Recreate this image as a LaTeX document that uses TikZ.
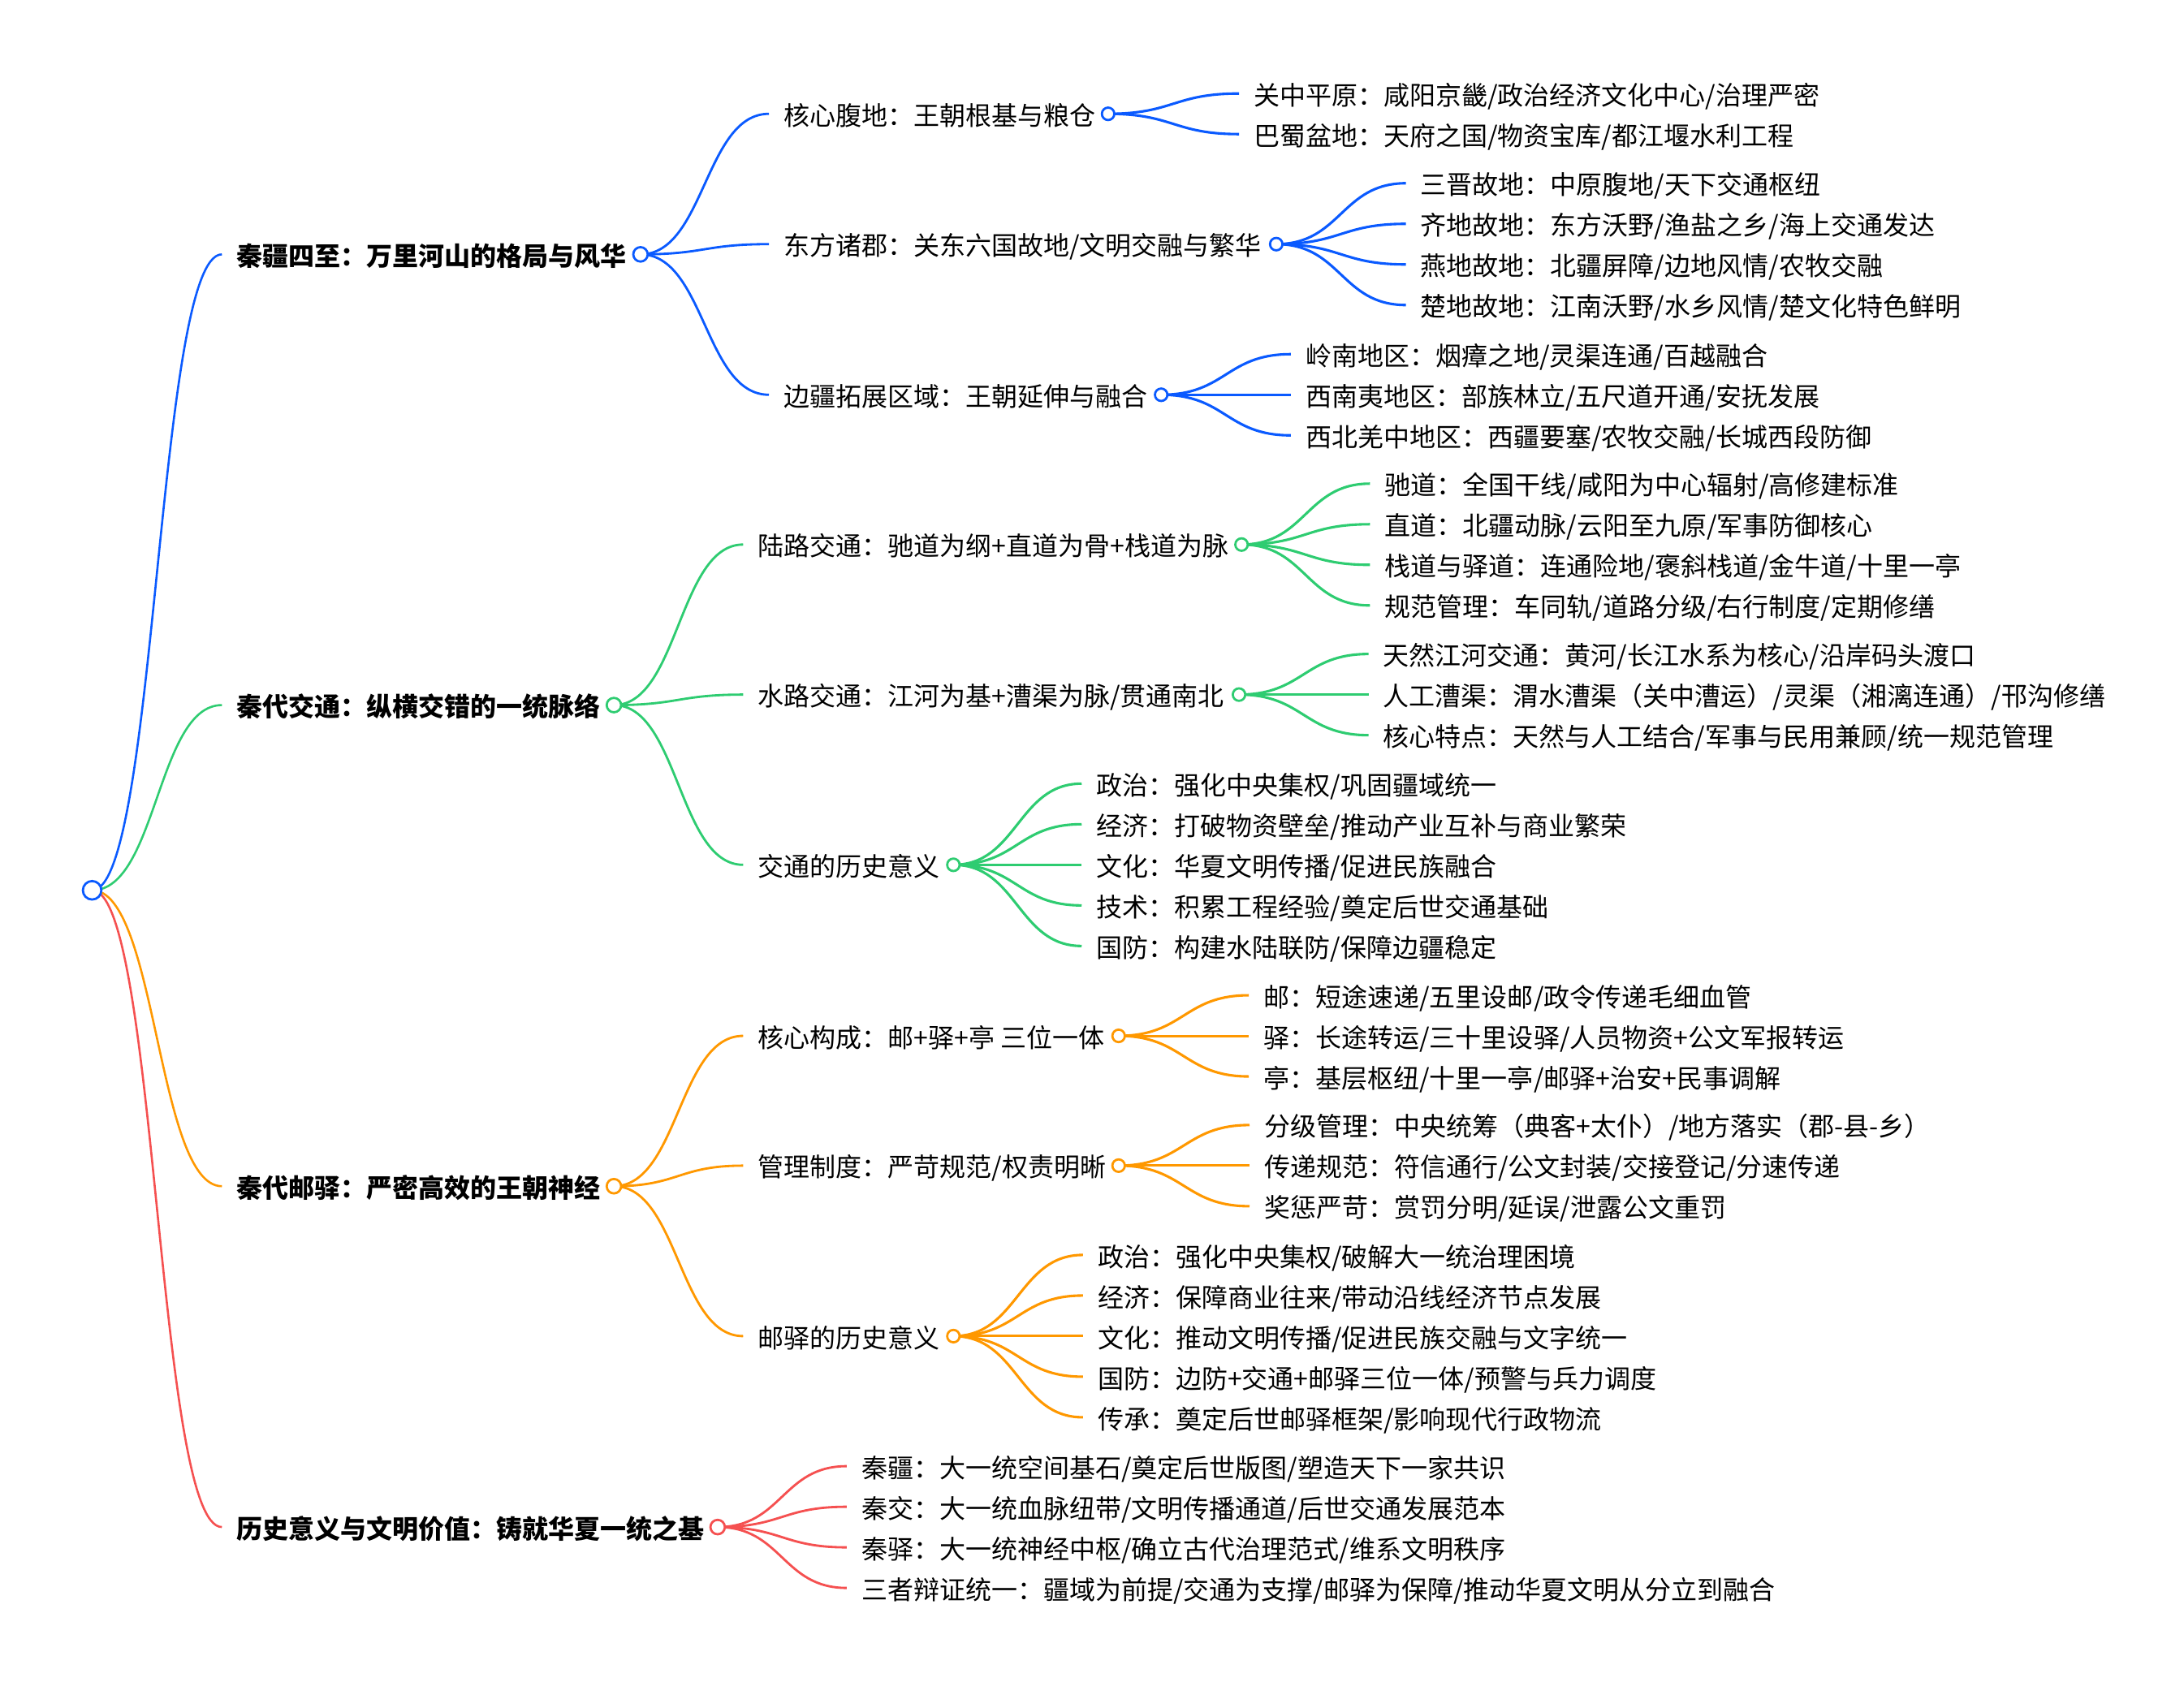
\documentclass[tikz,border=0pt]{standalone}
\usepackage{fontspec}
\setmainfont{Noto Sans CJK SC}
\usetikzlibrary{calc}
\definecolor{cB}{RGB}{10,90,255}
\definecolor{cG}{RGB}{46,204,113}
\definecolor{cO}{RGB}{255,152,0}
\definecolor{cR}{RGB}{245,80,80}
\newcommand\mmedge[3]{\draw[#1] let \p1=(#2), \p2=(#3) in (\p1) .. controls ({(\x1+\x2)/2},\y1) and ({(\x1+\x2)/2},\y2) .. (\p2);}
\tikzset{
  lbl/.style={anchor=west, inner xsep=5.1pt, inner ysep=0pt, text height=8.17pt, text depth=0pt,
    font=\fontsize{9.28pt}{11pt}\selectfont, text=black},
  lone/.style={lbl, font=\fontsize{9.28pt}{11pt}\selectfont\bfseries},
  circ/.style={circle, fill=white, line width=0.8pt, inner sep=0pt, draw=#1},
  cr0/.style={minimum size=6.6pt},
  cr1/.style={minimum size=5.15pt},
  cr2/.style={minimum size=4.45pt},
  e0/.style={draw=#1, line width=0.75pt},
  e1/.style={draw=#1, line width=0.82pt},
  e2/.style={draw=#1, line width=0.9pt},
}
\begin{document}
\begin{tikzpicture}[x=0.5pt,y=-0.5pt]
\fill[white] (0,0) rectangle (1560,1201.6);
\useasboundingbox (0,0) rectangle (1560,1201.6);

% root and circle positions
\coordinate (root) at (65.8,636);
\coordinate (b1c) at (457.5,181.7);
\coordinate (g1c) at (438.5,503.7);
\coordinate (o1c) at (438.5,847.4);
\coordinate (r1c) at (512.6,1090.9);
\coordinate (b2ac) at (791.5,81.3);
\coordinate (b2bc) at (911.6,174.4);
\coordinate (b2cc) at (829.4,282);
\coordinate (g2ac) at (886.8,389);
\coordinate (g2bc) at (885,496.2);
\coordinate (g2cc) at (681,617.8);
\coordinate (o2ac) at (799,740);
\coordinate (o2bc) at (799,832.7);
\coordinate (o2cc) at (681,954.5);

% level 1
\node[lone] (b1) at (158.5,181.7) {秦疆四至：万里河山的格局与风华};
\node[lone] (g1) at (158.5,503.7) {秦代交通：纵横交错的一统脉络};
\node[lone] (o1) at (158.5,847.4) {秦代邮驿：严密高效的王朝神经};
\node[lone] (r1) at (158.5,1090.9) {历史意义与文明价值：铸就华夏一统之基};

% level 2 blue
\node[lbl] (b2a) at (549.2,81.3) {核心腹地：王朝根基与粮仓};
\node[lbl] (b2b) at (549.2,174.4) {东方诸郡：关东六国故地/文明交融与繁华};
\node[lbl] (b2c) at (549.2,282) {边疆拓展区域：王朝延伸与融合};
% blue leaves
\node[lbl] (b2a1) at (885,66.8) {关中平原：咸阳京畿/政治经济文化中心/治理严密};
\node[lbl] (b2a2) at (885,95.8) {巴蜀盆地：天府之国/物资宝库/都江堰水利工程};
\node[lbl] (b2b1) at (1004.2,130.9) {三晋故地：中原腹地/天下交通枢纽};
\node[lbl] (b2b2) at (1004.2,159.9) {齐地故地：东方沃野/渔盐之乡/海上交通发达};
\node[lbl] (b2b3) at (1004.2,188.9) {燕地故地：北疆屏障/边地风情/农牧交融};
\node[lbl] (b2b4) at (1004.2,217.9) {楚地故地：江南沃野/水乡风情/楚文化特色鲜明};
\node[lbl] (b2c1) at (922,253) {岭南地区：烟瘴之地/灵渠连通/百越融合};
\node[lbl] (b2c2) at (922,282) {西南夷地区：部族林立/五尺道开通/安抚发展};
\node[lbl] (b2c3) at (922,311) {西北羌中地区：西疆要塞/农牧交融/长城西段防御};

% level 2 green
\node[lbl] (g2a) at (530.8,389) {陆路交通：驰道为纲+直道为骨+栈道为脉};
\node[lbl] (g2b) at (530.8,496.2) {水路交通：江河为基+漕渠为脉/贯通南北};
\node[lbl] (g2c) at (530.8,617.8) {交通的历史意义};
% green leaves
\node[lbl] (g2a1) at (978.5,345.5) {驰道：全国干线/咸阳为中心辐射/高修建标准};
\node[lbl] (g2a2) at (978.5,374.5) {直道：北疆动脉/云阳至九原/军事防御核心};
\node[lbl] (g2a3) at (978.5,403.5) {栈道与驿道：连通险地/褒斜栈道/金牛道/十里一亭};
\node[lbl] (g2a4) at (978.5,432.5) {规范管理：车同轨/道路分级/右行制度/定期修缮};
\node[lbl] (g2b1) at (977.5,467.2) {天然江河交通：黄河/长江水系为核心/沿岸码头渡口};
\node[lbl] (g2b2) at (977.5,496.2) {人工漕渠：渭水漕渠（关中漕运）/灵渠（湘漓连通）/邗沟修缮};
\node[lbl] (g2b3) at (977.5,525.2) {核心特点：天然与人工结合/军事与民用兼顾/统一规范管理};
\node[lbl] (g2c1) at (772.6,559.8) {政治：强化中央集权/巩固疆域统一};
\node[lbl] (g2c2) at (772.6,588.8) {经济：打破物资壁垒/推动产业互补与商业繁荣};
\node[lbl] (g2c3) at (772.6,617.8) {文化：华夏文明传播/促进民族融合};
\node[lbl] (g2c4) at (772.6,646.8) {技术：积累工程经验/奠定后世交通基础};
\node[lbl] (g2c5) at (772.6,675.8) {国防：构建水陆联防/保障边疆稳定};

% level 2 orange
\node[lbl] (o2a) at (530.8,740) {核心构成：邮+驿+亭 三位一体};
\node[lbl] (o2b) at (530.8,832.7) {管理制度：严苛规范/权责明晰};
\node[lbl] (o2c) at (530.8,954.5) {邮驿的历史意义};
% orange leaves
\node[lbl] (o2a1) at (892,711) {邮：短途速递/五里设邮/政令传递毛细血管};
\node[lbl] (o2a2) at (892,740) {驿：长途转运/三十里设驿/人员物资+公文军报转运};
\node[lbl] (o2a3) at (892,769) {亭：基层枢纽/十里一亭/邮驿+治安+民事调解};
\node[lbl] (o2b1) at (892.5,803.7) {分级管理：中央统筹（典客+太仆）/地方落实（郡-县-乡）};
\node[lbl] (o2b2) at (892.5,832.7) {传递规范：符信通行/公文封装/交接登记/分速传递};
\node[lbl] (o2b3) at (892.5,861.7) {奖惩严苛：赏罚分明/延误/泄露公文重罚};
\node[lbl] (o2c1) at (773.5,896.5) {政治：强化中央集权/破解大一统治理困境};
\node[lbl] (o2c2) at (773.5,925.5) {经济：保障商业往来/带动沿线经济节点发展};
\node[lbl] (o2c3) at (773.5,954.5) {文化：推动文明传播/促进民族交融与文字统一};
\node[lbl] (o2c4) at (773.5,983.5) {国防：边防+交通+邮驿三位一体/预警与兵力调度};
\node[lbl] (o2c5) at (773.5,1012.5) {传承：奠定后世邮驿框架/影响现代行政物流};

% red leaves
\node[lbl] (r11) at (604.8,1047.4) {秦疆：大一统空间基石/奠定后世版图/塑造天下一家共识};
\node[lbl] (r12) at (604.8,1076.4) {秦交：大一统血脉纽带/文明传播通道/后世交通发展范本};
\node[lbl] (r13) at (604.8,1105.4) {秦驿：大一统神经中枢/确立古代治理范式/维系文明秩序};
\node[lbl] (r14) at (604.8,1134.4) {三者辩证统一：疆域为前提/交通为支撑/邮驿为保障/推动华夏文明从分立到融合};

% connectors: root -> level 1
\mmedge{e0=cB}{root}{b1.west}
\mmedge{e0=cG}{root}{g1.west}
\mmedge{e0=cO}{root}{o1.west}
\mmedge{e0=cR}{root}{r1.west}
% level 1 -> level 2
\foreach \nd in {b2a,b2b,b2c} {\mmedge{e1=cB}{b1c}{\nd.west}}
\foreach \nd in {g2a,g2b,g2c} {\mmedge{e1=cG}{g1c}{\nd.west}}
\foreach \nd in {o2a,o2b,o2c} {\mmedge{e1=cO}{o1c}{\nd.west}}
\foreach \nd in {r11,r12,r13,r14} {\mmedge{e1=cR}{r1c}{\nd.west}}
% level 2 -> leaves
\foreach \nd in {b2a1,b2a2} {\mmedge{e2=cB}{b2ac}{\nd.west}}
\foreach \nd in {b2b1,b2b2,b2b3,b2b4} {\mmedge{e2=cB}{b2bc}{\nd.west}}
\foreach \nd in {b2c1,b2c2,b2c3} {\mmedge{e2=cB}{b2cc}{\nd.west}}
\foreach \nd in {g2a1,g2a2,g2a3,g2a4} {\mmedge{e2=cG}{g2ac}{\nd.west}}
\foreach \nd in {g2b1,g2b2,g2b3} {\mmedge{e2=cG}{g2bc}{\nd.west}}
\foreach \nd in {g2c1,g2c2,g2c3,g2c4,g2c5} {\mmedge{e2=cG}{g2cc}{\nd.west}}
\foreach \nd in {o2a1,o2a2,o2a3} {\mmedge{e2=cO}{o2ac}{\nd.west}}
\foreach \nd in {o2b1,o2b2,o2b3} {\mmedge{e2=cO}{o2bc}{\nd.west}}
\foreach \nd in {o2c1,o2c2,o2c3,o2c4,o2c5} {\mmedge{e2=cO}{o2cc}{\nd.west}}

% circles on top
\node[circ=cB, cr0] (rootc) at (root) {};
\node[circ=cB, cr1] (b1o) at (b1c) {};
\node[circ=cG, cr1] (g1o) at (g1c) {};
\node[circ=cO, cr1] (o1o) at (o1c) {};
\node[circ=cR, cr1] (r1o) at (r1c) {};
\node[circ=cB, cr2] (b2ao) at (b2ac) {};
\node[circ=cB, cr2] (b2bo) at (b2bc) {};
\node[circ=cB, cr2] (b2co) at (b2cc) {};
\node[circ=cG, cr2] (g2ao) at (g2ac) {};
\node[circ=cG, cr2] (g2bo) at (g2bc) {};
\node[circ=cG, cr2] (g2co) at (g2cc) {};
\node[circ=cO, cr2] (o2ao) at (o2ac) {};
\node[circ=cO, cr2] (o2bo) at (o2bc) {};
\node[circ=cO, cr2] (o2co) at (o2cc) {};
\end{tikzpicture}
\end{document}
